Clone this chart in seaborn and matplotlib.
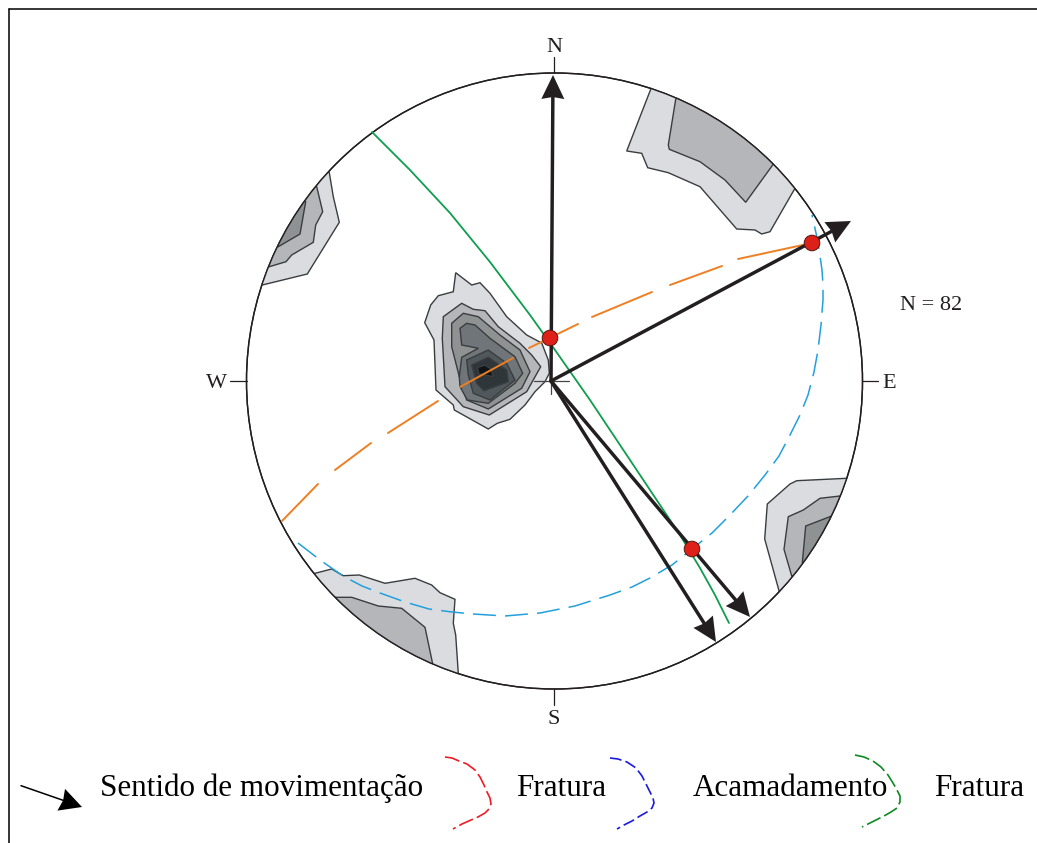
import numpy as np
import matplotlib
matplotlib.use("Agg")
import matplotlib.pyplot as plt
from matplotlib.patches import Circle, Polygon
import seaborn as sns

# everything in pixels (x, y down)
center = (554.5, 381)
radius = 308

# density contours, light to dark, (polygon, colour), clipped by the net
contour_colors = ["#dbdce0", "#b5b6b9", "#8f9293", "#6f7579", "#50585c", "#2e363a", "#111416"]

mid_1 = [(455.7, 272.7), (453.3, 291.7), (438.3, 295.7), (430.7, 305), (424.7, 322.7), (434, 340), (436, 390),
         (453.3, 405), (454.3, 410), (488.3, 429), (497.3, 423.3), (510, 419.3), (525, 405), (535, 391.7),
         (545, 381.7), (549.3, 373.3), (548.3, 360), (541.7, 343), (526.7, 335), (506.7, 316.7), (490, 293.3),
         (480, 282.7), (471.7, 285)]
mid_2 = [(461.7, 303.3), (443.3, 316.7), (442.3, 338.3), (445, 386.7), (463.3, 406.7), (489.3, 415), (526.7, 391.7),
         (540.7, 366.7), (531.7, 355), (520, 343.3), (498.3, 326.7), (485, 310.7), (473.3, 309.3)]
mid_3 = [(463.3, 313.3), (451.7, 323.3), (451.7, 346.7), (459.3, 376.7), (466.7, 400), (488.3, 409), (521.7, 388.3),
         (530, 371.7), (520, 350), (500, 335), (478.3, 316.7)]
mid_4 = [(466.7, 323.3), (460, 328.3), (461.7, 345), (478.3, 348.3), (461.7, 357.3), (459.3, 376.7), (460, 386.7),
         (467.3, 400), (488.3, 403.3), (515, 383.3), (522.7, 373.3), (515, 356.7), (490, 338.3), (475, 325)]
mid_5 = [(488.3, 350), (466.7, 360), (468.3, 375), (473.3, 393.3), (490, 400), (515, 380), (506.7, 363.3)]
mid_6 = [(488.3, 357.3), (471.7, 365), (476.7, 383.3), (484, 390.7), (508.3, 381.7), (506.7, 370)]
mid_7 = [(485, 365), (477.5, 367.5), (479, 374), (493, 376.5), (491, 369)]

ne_1 = [(650.7, 89.3), (626.7, 151), (641.7, 153.3), (647.7, 167.7), (668.3, 172.7), (700, 186.7), (736.7, 229),
        (755, 230), (761.7, 234), (770, 231.7), (794, 190), (830, 150), (760, 60), (655, 60)]
ne_2 = [(675.7, 99.3), (668.3, 145), (669.3, 149.3), (700, 161.7), (725, 180), (745.7, 202.3), (772.7, 165),
        (800, 130), (700, 70)]

nw_1 = [(329.3, 172.7), (333.3, 196.7), (339.3, 222.3), (307.3, 274), (262.3, 285), (235, 290), (290, 150)]
nw_2 = [(316.7, 186.7), (322.7, 211.7), (315.7, 225), (313.3, 242.3), (291.7, 255), (286, 261.7), (269.3, 266.7),
        (245, 265), (300, 170)]
nw_3 = [(305.7, 201.7), (300, 234), (278.3, 246.7), (260, 230), (290, 190)]

se_1 = [(846.7, 478.3), (796.7, 480.7), (790, 484), (767.3, 504), (764.7, 539), (779, 590.7), (830, 610), (880, 480)]
se_2 = [(840, 496), (820, 498.3), (803.3, 510), (788.3, 516.7), (784, 549.3), (791.7, 576), (850, 570), (860, 490)]
se_3 = [(831.7, 516), (805.7, 526), (802.3, 562.7), (835, 565), (850, 520)]

sw_1 = [(315, 573.3), (331.7, 569), (343.3, 575.7), (359.3, 575), (385, 583.3), (415, 578.3), (431.7, 585), (440, 592.7),
        (455, 599.3), (453.3, 623.3), (455.7, 635), (458.3, 673.3), (400, 710), (290, 600)]
sw_2 = [(335, 597.3), (351.7, 597.3), (378.3, 606), (401.7, 608.3), (425, 627.3), (432.7, 664), (380, 700), (315, 610)]

polygons = [(mid_1, 0), (mid_2, 1), (mid_3, 2), (mid_4, 3), (mid_5, 4), (mid_6, 5), (mid_7, 6),
            (ne_1, 0), (ne_2, 1), (nw_1, 0), (nw_2, 1), (nw_3, 2),
            (se_1, 0), (se_2, 1), (se_3, 2), (sw_1, 0), (sw_2, 1)]

# great circles
green_x = [372, 410, 450, 490, 530, 555, 590, 620, 650, 680, 700, 715, 729]
green_y = [132, 170, 213, 262, 315, 350, 400, 445, 490, 535, 568, 595, 623]

blue_x = [298, 320, 343, 362, 380, 405, 429, 452, 473, 505, 540, 575, 610, 632, 650, 672, 692, 712, 730, 748, 765,
          779, 790, 800, 808, 814, 818, 821, 823, 823, 822, 818, 812]
blue_y = [543, 560, 576, 586, 593, 602, 609, 612, 614, 616, 613, 606, 595, 587, 578, 565, 549, 533, 515, 496, 475,
          456, 435, 415, 395, 372, 350, 325, 300, 285, 270, 242, 215]

orange_dashes = [((282, 521), (318, 484)), ((335, 470), (371, 443)), ((388, 433), (438, 401)), ((460, 387), (513, 358)),
                 ((529, 348), (578, 324)), ((592, 317), (652, 292)), ((670, 285), (722, 266)), ((738, 259), (812, 243))]

red_points = [(550, 338), (812, 243), (692, 549)]

arrow_tips = [(553, 75), (851, 221), (750, 617), (716, 642)]

# legend sample curves
leg_red_x = [445, 452, 459, 467, 475, 480, 484, 487, 490, 491, 489, 485, 478, 471, 462, 453]
leg_red_y = [757, 758, 761, 764, 770, 777, 785, 792, 798, 804, 809, 813, 817, 820, 824, 829]
leg_blue_x = [610, 618, 627, 636, 642, 646, 650, 653, 654, 652, 647, 640, 632, 624, 617]
leg_blue_y = [758, 759, 762, 768, 776, 784, 792, 798, 803, 808, 812, 816, 821, 825, 829]
leg_green_x = [855, 864, 873, 881, 888, 893, 897, 900, 900, 897, 891, 884, 876, 868, 862]
leg_green_y = [755, 757, 761, 767, 775, 783, 790, 796, 802, 808, 812, 816, 820, 824, 827]

legend_labels = ["Sentido de movimentação", "Fratura", "Acamadamento", "Fratura"]
legend_label_x = [100, 516, 693, 934]

sns.set_theme(style="white")
plt.rcParams["font.family"] = ["Liberation Serif", "DejaVu Serif"]

fig = plt.figure(figsize=(10.37, 8.43), dpi=100)
ax = fig.add_axes([0, 0, 1, 1])
ax.set_axis_off()


def line(x, y, color, lw, **kw):
    sns.lineplot(x=x, y=y, sort=False, estimator=None, color=color, linewidth=lw, ax=ax, legend=False, **kw)


def head(tip, start, length, half, notch, color, z):
    # swept back arrow head, same shape as the drawing program gives
    tip = np.array(tip, float)
    d = tip - np.array(start, float)
    d = d / np.hypot(*d)
    n = np.array([-d[1], d[0]])
    base = tip - d * length
    pts = [tip, base + n * half, tip - d * (length - notch), base - n * half]
    ax.add_patch(Polygon(pts, closed=True, fc=color, ec="none", zorder=z))


net = Circle(center, radius, fc="white", ec="#231f20", lw=1.0, zorder=1)
ax.add_patch(net)

for pts, level in polygons:
    p = Polygon(pts, closed=True, fc=contour_colors[level], ec="#3a3d3f", lw=1.0, zorder=2)
    ax.add_patch(p)
    p.set_clip_path(Circle(center, radius, transform=ax.transData))
ax.add_patch(Circle(center, radius, fc="none", ec="#231f20", lw=1.0, zorder=3))

# compass ticks and centre cross
k = "#231f20"
line([554, 554], [57, 73], k, 0.9, zorder=3)
line([554, 554], [689, 705], k, 0.9, zorder=3)
line([230, 247], [381, 381], k, 0.9, zorder=3)
line([862, 878], [381, 381], k, 0.9, zorder=3)
line([534, 569], [381, 381], "#444444", 0.9, zorder=6)
line([551, 551], [366, 394], "#444444", 0.9, zorder=6)

line(green_x, green_y, "#0f9d4e", 1.3, zorder=4)
line(blue_x, blue_y, "#22a0dc", 1.1, zorder=4, linestyle=(0, (15, 6)))
for a, b in orange_dashes:
    line([a[0], b[0]], [a[1], b[1]], "#ee7f22", 1.4, zorder=4)

origin = (551, 381)
for tip in arrow_tips:
    d = np.array(tip) - np.array(origin)
    stop = np.array(tip) - d / np.hypot(*d) * 20
    line([origin[0], stop[0]], [origin[1], stop[1]], k, 2.5, zorder=7)
    head(tip, origin, 24, 11.5, 2, k, 7)

for p in red_points:
    ax.add_patch(Circle(p, 7.8, fc="#dd2018", ec="#5a1510", lw=0.7, zorder=8))

ax.text(554, 48, "N", ha="center", va="center", fontsize=16, color=k)
ax.text(554, 720, "S", ha="center", va="center", fontsize=16, color=k)
ax.text(216, 383, "W", ha="center", va="center", fontsize=16, color=k)
ax.text(889, 383, "E", ha="center", va="center", fontsize=16, color=k)
ax.text(931, 305, "N = 82", ha="center", va="center", fontsize=16, color=k)

# legend row
line([21, 68], [785.7, 802], "black", 1.1)
head((82, 807), (21, 785.7), 22, 11.5, 2, "black", 5)
line(leg_red_x, leg_red_y, "#ee1c25", 1.2, linestyle=(0, (9, 2.5)))
line(leg_blue_x, leg_blue_y, "#1a1ae0", 1.2, linestyle=(0, (7, 2.5)))
line(leg_green_x, leg_green_y, "#0d8a1f", 1.2, linestyle=(0, (9, 2.5)))
for lab, x in zip(legend_labels, legend_label_x):
    ax.text(x, 788, lab, ha="left", va="center", fontsize=22.4, color="black")

# frame, open at the right and at the bottom
line([8.5, 8.5], [843, 8.5], "black", 1.1)
line([8.5, 1037], [8.5, 8.5], "black", 1.1)

ax.set_xlim(0, 1037)
ax.set_ylim(843, 0)
fig.savefig("out.png", dpi=100)
